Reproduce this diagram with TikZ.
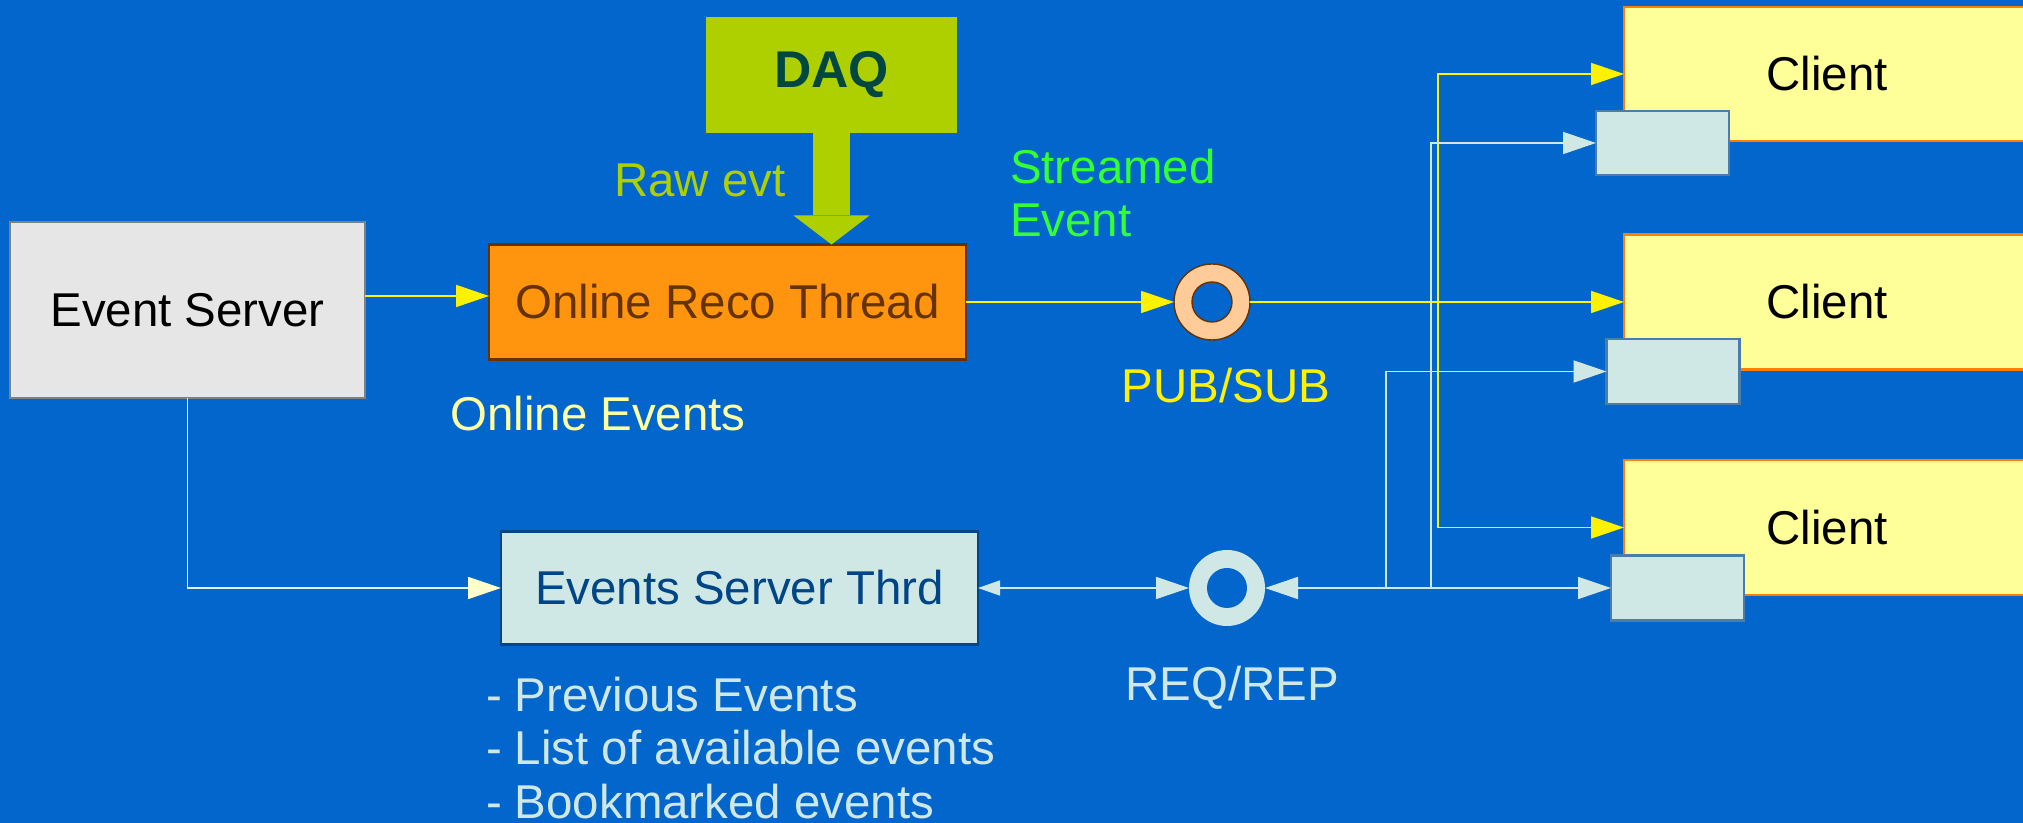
\documentclass[tikz,border=0pt]{standalone}
\usepackage{fontspec}
\setmainfont{Liberation Sans}
\usetikzlibrary{arrows.meta}

\definecolor{bgblue}{RGB}{2,102,204}
\definecolor{daqg}{RGB}{175,208,0}
\definecolor{daqtxt}{RGB}{0,70,65}
\definecolor{recoor}{RGB}{255,148,14}
\definecolor{recotxt}{RGB}{102,51,0}
\definecolor{esgray}{RGB}{230,230,230}
\definecolor{cliyel}{RGB}{255,255,153}
\definecolor{lcyan}{RGB}{207,231,229}
\definecolor{esttxt}{RGB}{0,69,134}
\definecolor{peach}{RGB}{255,204,153}
\definecolor{stgreen}{RGB}{51,255,51}
\definecolor{lyel}{RGB}{255,255,204}

\begin{document}
\begin{tikzpicture}[every node/.style={inner sep=0pt, outer sep=0pt, font=\fontsize{13.5}{15.1}\selectfont},
  box/.style={rectangle, draw, line width=0.6pt},
  ring/.style={circle, minimum size=7.6mm},
  yarr/.style={draw=yellow, line width=0.5pt, -{Triangle[length=3.3mm, width=2.2mm]}},
  larr/.style={draw=lcyan, line width=0.5pt, -{Triangle[length=3.3mm, width=2.2mm]}}]
\clip (0,0) rectangle (20.23,8.23);
\fill[bgblue] (0,0) rectangle (20.23,8.23);
\node[box, draw=daqg, fill=daqg, minimum width=2.49cm, minimum height=1.14cm, text=daqtxt, font=\fontsize{14.7}{16}\selectfont\bfseries] (DAQ) at (8.315,7.48) {DAQ};
\node[box, draw=recotxt, fill=recoor, minimum width=4.77cm, minimum height=1.15cm, text=recotxt] (RECO) at (7.275,5.21) {Online Reco Thread};
\node[box, draw=gray, fill=esgray, minimum width=3.55cm, minimum height=1.76cm] (ES) at (1.875,5.13) {Event Server};
\node[box, draw=esttxt, fill=lcyan, minimum width=4.77cm, minimum height=1.13cm, text=esttxt] (EST) at (7.395,2.35) {Events Server Thrd};
\node[ring, fill=peach, draw=recotxt, line width=0.4pt] (PS) at (12.12,5.21) {};
\filldraw[fill=bgblue, draw=recotxt, line width=0.4pt] (PS.center) circle (0.2);
\node[ring, fill=lcyan] (RR) at (12.27,2.35) {};
\fill[bgblue] (RR.center) circle (0.2);
\node[box, draw=orange, fill=cliyel, minimum width=4.06cm, minimum height=1.34cm] (C1) at (18.27,7.49) {Client};
\node[box, draw=orange, fill=cliyel, minimum width=4.06cm, minimum height=1.35cm] (C2) at (18.27,5.21) {Client};
\node[box, draw=orange, fill=cliyel, minimum width=4.06cm, minimum height=1.35cm] (C3) at (18.27,2.955) {Client};
\node[box, draw=esttxt!70, fill=lcyan, minimum width=1.33cm, minimum height=0.64cm] (B1) at (16.625,6.80) {};
\node[box, draw=esttxt!70, fill=lcyan, minimum width=1.33cm, minimum height=0.65cm] (B2) at (16.73,4.515) {};
\node[box, draw=esttxt!70, fill=lcyan, minimum width=1.33cm, minimum height=0.65cm] (B3) at (16.775,2.35) {};
\node[text=daqg] (RAW) at (7.00,6.43) {Raw evt};
\node[text=stgreen, align=left, anchor=west] (STR) at (10.10,6.30) {Streamed\\Event};
\node[text=lyel!80!yellow] (OE) at (5.98,4.09) {Online Events};
\node[text=yellow] (PSL) at (12.26,4.37) {PUB/SUB};
\node[text=lcyan] (RRL) at (12.32,1.35) {REQ/REP};
\node[text=lcyan, align=left, anchor=west] (LST) at (4.86,0.75) {- Previous Events\\- List of available events\\- Bookmarked events};
\coordinate (J1) at (14.38,5.21);
\coordinate (J2) at (13.86,2.35);
\coordinate (J3) at (14.31,2.35);
\draw[draw=daqg, line width=3.7mm, -{Triangle[length=2.9mm, width=7.6mm, line width=0pt]}] (DAQ.south) -- (DAQ.south |- RECO.north);
\draw[yarr] ([yshift=0.6mm]ES.east |- RECO.west) -- ([yshift=0.6mm]RECO.west);
\draw[yarr] (RECO.east) -- (PS.west);
\draw[yarr] (PS.east) -- (C2.west);
\draw[yarr] (J1) |- (C1.west);
\draw[yarr] (J1) |- (C3.west);
\draw[draw=lcyan!60!white, line width=0.5pt, -{Triangle[length=3.3mm, width=2.2mm, color=lyel]}] (ES.south) |- (EST.west);
\draw[larr, {Triangle[length=2.2mm, width=1.5mm]}-{Triangle[length=3.3mm, width=2.2mm]}] (EST.east) -- (RR.west);
\draw[larr, {Triangle[length=3.3mm, width=2.2mm]}-{Triangle[length=3.3mm, width=2.2mm]}] (RR.east) -- (B3.west);
\draw[larr] (J2) |- (B2.west);
\draw[larr] (J3) |- (B1.west);
\end{tikzpicture}
\end{document}
